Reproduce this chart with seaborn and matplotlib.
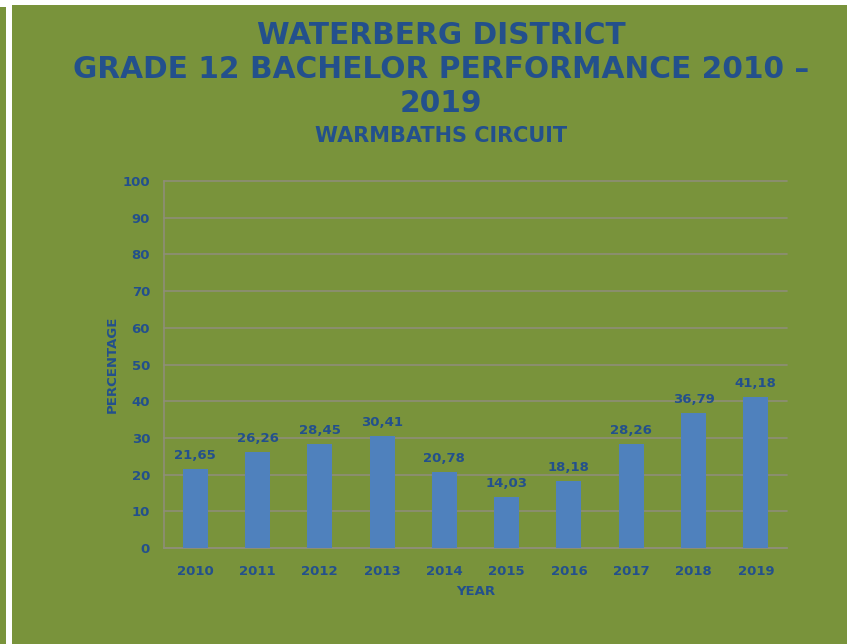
import matplotlib
matplotlib.use('Agg')
import matplotlib.pyplot as plt
from matplotlib.patches import Rectangle
import seaborn as sns
import pandas as pd
import numpy as np

# ── DATA ──────────────────────────────────────────────────────────────────────
years = ['2010', '2011', '2012', '2013', '2014', '2015', '2016', '2017', '2018', '2019']
percentages = [21.65, 26.26, 28.45, 30.41, 20.78, 14.03, 18.18, 28.26, 36.79, 41.18]
y_ticks = [0, 10, 20, 30, 40, 50, 60, 70, 80, 90, 100]

df = pd.DataFrame({'year': years, 'pct': percentages})

# ── STYLE ─────────────────────────────────────────────────────────────────────
sns.set_theme(style='white')
plt.rcParams['font.family'] = ['DejaVu Sans']

green = '#79933b'
bar_color = '#4f81bd'
text_color = '#23508c'
grid_color = '#8e8e78'

fig = plt.figure(figsize=(8.47, 6.44), dpi=100)
fig.patch.set_facecolor('white')
# green panel + thin strip on the left edge (behind the axes)
fig.patches.append(Rectangle((12 / 847, 0), 1, 1 - 5 / 644, transform=fig.transFigure,
                             facecolor=green, edgecolor='none', zorder=-5))
fig.patches.append(Rectangle((0, 0), 6 / 847, 1 - 7 / 644, transform=fig.transFigure,
                             facecolor=green, edgecolor='none', zorder=-5))

ax = fig.add_axes([164 / 847, 1 - 548 / 644, 623 / 847, 367 / 644])
ax.set_facecolor('none')

sns.barplot(data=df, x='year', y='pct', color=bar_color, width=0.4,
            saturation=1, linewidth=0, ax=ax, zorder=3)

ax.set_ylim(0, 100)
ax.set_xlim(-0.5, len(years) - 0.5)
ax.set_yticks(y_ticks)
ax.yaxis.grid(True, color=grid_color, linewidth=1.2, zorder=0)
ax.set_axisbelow(True)
for gl in ax.get_ygridlines():
    gl.set_clip_on(False)

for s in ['top', 'right']:
    ax.spines[s].set_visible(False)
for s in ['left', 'bottom']:
    ax.spines[s].set_color(grid_color)
    ax.spines[s].set_linewidth(1.2)

# tick labels
ax.tick_params(axis='y', colors=grid_color, length=4, width=1.2, labelsize=9.5,
               labelcolor=text_color, pad=6)
ax.tick_params(axis='x', which='major', length=0, labelsize=9.5,
               labelcolor=text_color, pad=12)
ax.set_xticks(np.arange(-0.5, len(years)), minor=True)
ax.tick_params(axis='x', which='minor', length=5, width=1.2, colors=grid_color)
for lbl in ax.get_xticklabels() + ax.get_yticklabels():
    lbl.set_fontweight('bold')

# value labels
labels = [f'{v:.2f}'.replace('.', ',') for v in percentages]
ax.bar_label(ax.containers[0], labels=labels, padding=5, fontsize=9.5,
             fontweight='bold', color=text_color)

ax.set_xlabel('YEAR', fontsize=9.5, fontweight='bold', color=text_color, labelpad=5)
ax.set_ylabel('PERCENTAGE', fontsize=9.5, fontweight='bold', color=text_color, labelpad=3)

# titles
fig.text(441 / 847, 1 - 35 / 644, 'WATERBERG DISTRICT', ha='center', va='center',
         fontsize=21.3, fontweight='bold', color=text_color)
fig.text(441 / 847, 1 - 70 / 644, 'GRADE 12 BACHELOR PERFORMANCE 2010 –', ha='center',
         va='center', fontsize=21.3, fontweight='bold', color=text_color)
fig.text(441 / 847, 1 - 104 / 644, '2019', ha='center', va='center',
         fontsize=21.3, fontweight='bold', color=text_color)
fig.text(441 / 847, 1 - 136 / 644, 'WARMBATHS CIRCUIT', ha='center', va='center',
         fontsize=15, fontweight='bold', color=text_color)

plt.savefig('out.png', dpi=100, facecolor=fig.get_facecolor())
